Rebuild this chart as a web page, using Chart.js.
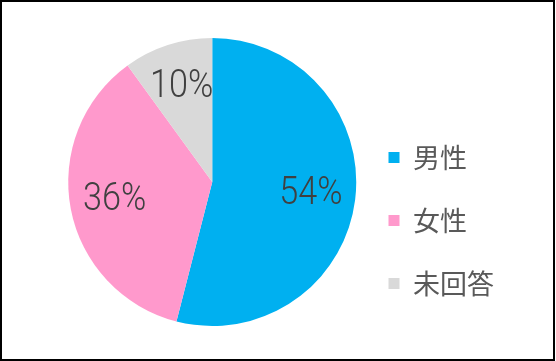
<!DOCTYPE html>
<html lang="ja">
<head>
    <meta charset="UTF-8">
    <title>回答者の性別</title>
    <script src="https://cdn.jsdelivr.net/npm/chart.js"></script>
    <style>
        body { margin: 0; background: #fff; }
        #frame { position: absolute; left: 0; top: 0; width: 555px; height: 361px; box-sizing: border-box; border: 2px solid #000; }
        #wrap { position: absolute; left: 0; top: 0; width: 556px; height: 361px; }
    </style>
</head>
<body>
    <div id="frame"></div>
    <div id="wrap"><canvas id="genderChart"></canvas></div>

    <script>
        const labels = ['男性', '女性', '未回答'];
        const shares = [54, 36, 10]; // %
        const colors = ['#00B0F0', '#FF99CC', '#D9D9D9'];

        // パーセント表示を各扇形の中に描く
        const pctLabels = {
            id: 'pctLabels',
            afterDatasetsDraw(chart) {
                const ctx = chart.ctx;
                const arcs = chart.getDatasetMeta(0).data;
                ctx.save();
                ctx.fillStyle = '#404040';
                ctx.font = '300 38px Roboto, "Liberation Sans", sans-serif';
                ctx.textAlign = 'center';
                ctx.textBaseline = 'middle';
                arcs.forEach((arc, i) => {
                    const p = arc.getProps(['x', 'y', 'startAngle', 'endAngle', 'outerRadius'], true);
                    const mid = (p.startAngle + p.endAngle) / 2;
                    const r = p.outerRadius * 0.69;
                    const x = p.x + Math.cos(mid) * r;
                    const y = p.y + Math.sin(mid) * r;
                    ctx.save();
                    ctx.translate(x, y);
                    ctx.scale(0.9, 1);
                    ctx.fillText(shares[i] + '%', 0, 0);
                    ctx.restore();
                });
                ctx.restore();
            }
        };

        const ctx = document.getElementById('genderChart').getContext('2d');
        const chart = new Chart(ctx, {
            type: 'pie',
            data: {
                labels: labels,
                datasets: [{
                    data: shares,
                    backgroundColor: colors,
                    borderWidth: 0
                }]
            },
            options: {
                responsive: true,
                maintainAspectRatio: false,
                animation: false,
                radius: 144,
                layout: {
                    padding: { top: 31, bottom: 28, left: 72, right: 52 }
                },
                plugins: {
                    legend: {
                        position: 'right',
                        align: 'end',
                        labels: {
                            boxWidth: 11,
                            boxHeight: 11,
                            padding: 36,
                            color: '#595959',
                            font: { family: '"Noto Sans CJK JP", sans-serif', size: 27 }
                        }
                    },
                    tooltip: { enabled: false }
                }
            },
            plugins: [pctLabels]
        });
    </script>
</body>
</html>
